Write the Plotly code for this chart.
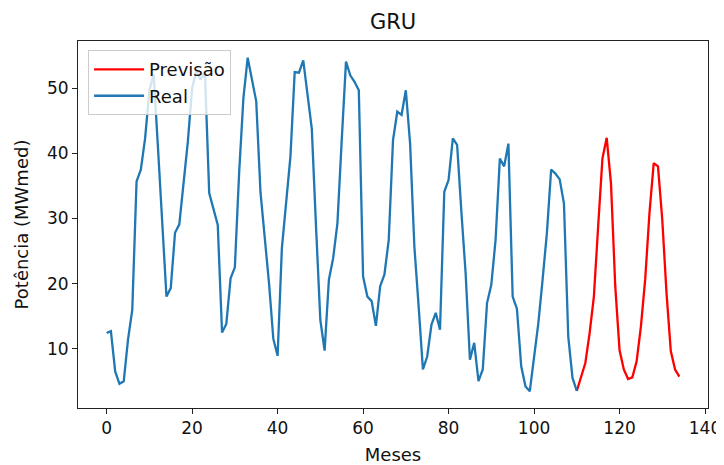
import plotly.graph_objects as go

# Real series (months 0..110)
real_x = list(range(0, 111))
real_y = [
    12.4, 12.7, 6.5, 4.6, 5.0, 11.4, 16.0, 35.7, 37.5, 42.3,
    49.7, 52.1, 41.0, 29.0, 18.0, 19.3, 27.8, 29.1, 35.4, 41.8,
    50.0, 52.7, 51.3, 52.5, 33.9, 31.4, 29.0, 12.5, 13.8, 20.8,
    22.5, 37.0, 48.5, 54.7, 51.4, 48.0, 34.0, 27.0, 20.0, 11.5,
    8.9, 25.4, 32.3, 39.5, 52.5, 52.4, 54.3, 49.3, 43.8, 28.6,
    14.4, 9.7, 20.6, 23.9, 29.3, 42.0, 54.1, 52.0, 51.0, 49.7,
    21.1, 18.0, 17.3, 13.5, 19.6, 21.4, 26.7, 42.0, 46.4, 45.9,
    49.7, 41.5, 25.7, 16.5, 6.8, 8.8, 13.7, 15.5, 12.9, 34.1,
    35.9, 42.3, 41.3, 31.0, 21.5, 8.3, 10.9, 5.0, 6.8, 17.0,
    19.8, 26.7, 39.2, 38.0, 41.5, 18.0, 16.1, 7.3, 4.2, 3.45,
    8.3, 13.9, 20.6, 27.7, 37.5, 36.9, 36.0, 32.3, 11.9, 5.5,
    3.5,
]

# Forecast series (months 110..134)
prev_x = list(range(110, 135))
prev_y = [
    3.5, 5.5, 7.8, 12.4, 18.0, 28.8, 39.2, 42.4, 35.4, 19.6,
    9.8, 6.8, 5.35, 5.6, 8.05, 13.4, 20.6, 30.8, 38.5, 38.0,
    29.8, 18.5, 9.6, 6.8, 5.7,
]

x_ticks = [0, 20, 40, 60, 80, 100, 120, 140]
y_ticks = [10, 20, 30, 40, 50]

title_text = "GRU"
x_label = "Meses"
y_label = "Potência (MWmed)"
names = ["Previsão", "Real"]

# matplotlib-like 5% margins
all_x = real_x + prev_x
all_y = real_y + prev_y
xmin, xmax = min(all_x), max(all_x)
ymin, ymax = min(all_y), max(all_y)
xpad = (xmax - xmin) * 0.05
ypad = (ymax - ymin) * 0.05

FONT = "DejaVu Sans"
TXT = "#111"

# the page body adds an 8px offset; compensate so the figure fills 724x465
OFF = 8
W, H = 724 - OFF, 465 - OFF

fig = go.Figure()
fig.add_trace(go.Scatter(x=prev_x, y=prev_y, mode="lines", name=names[0],
                         line=dict(color="#ff0000", width=2.3)))
fig.add_trace(go.Scatter(x=real_x, y=real_y, mode="lines", name=names[1],
                         line=dict(color="#1f77b4", width=2.3)))

axis_common = dict(
    showline=True, linecolor="#222", linewidth=1.1, mirror=True,
    ticks="outside", ticklen=5, tickwidth=1, tickcolor="#222",
    showgrid=False, zeroline=False, automargin=False,
    tickfont=dict(family=FONT, size=17, color=TXT),
)

fig.update_layout(
    width=W, height=H,
    margin=dict(l=78 - OFF, r=16, t=41 - OFF, b=57, autoexpand=False),
    paper_bgcolor="white", plot_bgcolor="white",
    font=dict(family=FONT, size=17, color=TXT),
    title=dict(text=title_text, x=0.5, xref="paper", xanchor="center",
               y=1 - (22 - OFF) / H, yref="container", yanchor="middle",
               font=dict(family=FONT, size=21, color=TXT)),
    xaxis=dict(range=[xmin - xpad, xmax + xpad], tickvals=x_ticks,
               title=dict(text=x_label, standoff=12,
                          font=dict(family=FONT, size=18, color=TXT)),
               **axis_common),
    yaxis=dict(range=[ymin - ypad, ymax + ypad], tickvals=y_ticks,
               title=dict(text=y_label, standoff=13,
                          font=dict(family=FONT, size=18, color=TXT)),
               **axis_common),
    legend=dict(x=0.016, y=0.975, xanchor="left", yanchor="top",
                bgcolor="rgba(255,255,255,0.8)", bordercolor="#ccc",
                borderwidth=1, font=dict(family=FONT, size=18, color=TXT),
                tracegroupgap=0, itemwidth=50),
    showlegend=True,
)

fig.write_html("out.html")
